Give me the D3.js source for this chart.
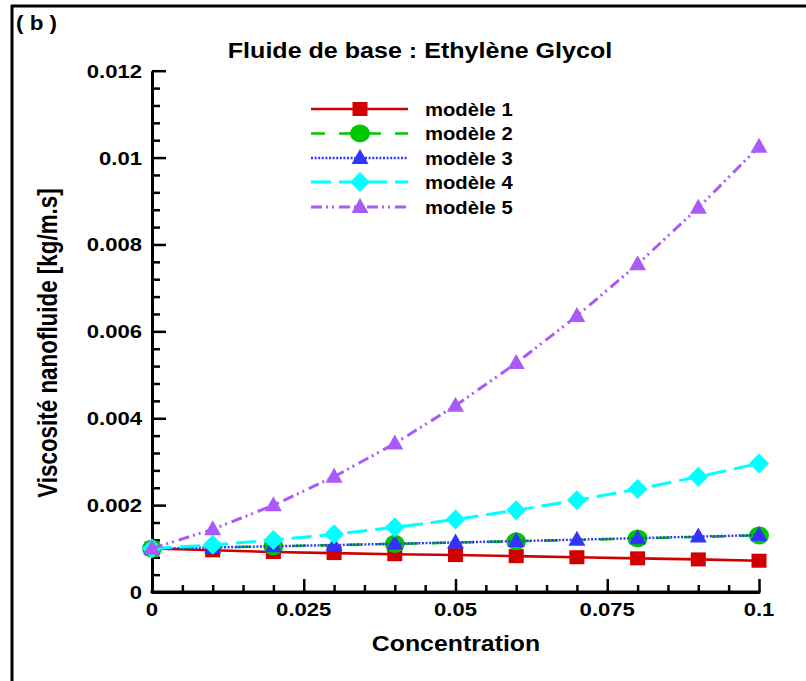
<!DOCTYPE html>
<html><head><meta charset="utf-8">
<script src="https://cdn.jsdelivr.net/npm/d3@7"></script>
<style>html,body{margin:0;padding:0;background:#fff;}svg{display:block;}</style>
</head><body>
<svg id="chart" width="806" height="681"></svg>
<script>
// ---- data ----
const concentration = [0, 0.01, 0.02, 0.03, 0.04, 0.05, 0.06, 0.07, 0.08, 0.09, 0.1];
const modele1 = [0.001, 0.00096, 0.00092, 0.000895, 0.00087, 0.00085, 0.000825, 0.0008, 0.000775, 0.00075, 0.00072];
const modele2 = [0.001, 0.001025, 0.001052, 0.001079, 0.001108, 0.001137, 0.001168, 0.001199, 0.001232, 0.001267, 0.001302];
const modele3 = [0.001, 0.001026, 0.001053, 0.001081, 0.00111, 0.001141, 0.001172, 0.001205, 0.00124, 0.001275, 0.001312];
const modele4 = [0.001, 0.001085, 0.001195, 0.00133, 0.001489, 0.00167, 0.001881, 0.002114, 0.002371, 0.002653, 0.00296];
const modele5 = [0.001, 0.001445, 0.001996, 0.002654, 0.003419, 0.00429, 0.005269, 0.006354, 0.007546, 0.008845, 0.01025];
const seriesNames = ["modèle 1", "modèle 2", "modèle 3", "modèle 4", "modèle 5"];
const xTicks = [0, 0.025, 0.05, 0.075, 0.1];
const xTickLabels = ["0", "0.025", "0.05", "0.075", "0.1"];
const yTicks = [0, 0.002, 0.004, 0.006, 0.008, 0.01, 0.012];
const yTickLabels = ["0", "0.002", "0.004", "0.006", "0.008", "0.01", "0.012"];
const titleText = "Fluide de base : Ethylène Glycol";
const panelLabel = "( b )";
const xLabel = "Concentration";
const yLabel = "Viscosité nanofluide [kg/m.s]";

// ---- styles ----
const FONT = '"Liberation Sans", Arial, Helvetica, sans-serif';
const SX = 1.15;
const styles = [
  {color:"#d00000", dash:null, width:2.6, marker:"square", every:1},
  {color:"#00c800", dash:"14,14", width:2.6, marker:"circle", every:2},
  {color:"#3333ff", dash:"2,1.6", width:2.4, marker:"triangle", every:1},
  {color:"#00ffff", dash:"20,8", width:3, marker:"diamond", every:1},
  {color:"#aa5af8", dash:"11,4,2,4,2,5", width:3, marker:"triangle", every:1}
];
const seriesData = [modele1, modele2, modele3, modele4, modele5];

const svg = d3.select("#chart");
const x = d3.scaleLinear().domain([0, 0.1]).range([152, 759]);
const y = d3.scaleLinear().domain([0, 0.012]).range([592, 70.7]);

function stext(parent, px, py, str, fs, sx, anchor){
  return parent.append("text")
    .attr("transform", `translate(${px},${py}) scale(${sx},1)`)
    .attr("text-anchor", anchor)
    .style("font-family", FONT).style("font-weight", "bold")
    .style("font-size", fs + "px").attr("fill", "#000")
    .text(str);
}

// frame
svg.append("line").attr("x1", 11).attr("x2", 806).attr("y1", 6).attr("y2", 6).attr("stroke", "#000").attr("stroke-width", 3);
svg.append("line").attr("x1", 12).attr("x2", 12).attr("y1", 5).attr("y2", 681).attr("stroke", "#000").attr("stroke-width", 3);

stext(svg, 16, 30, panelLabel, 19.5, SX, "start");
stext(svg, 420, 58, titleText, 21.8, SX, "middle");

// axes
const yMinor = d3.range(0, 0.01201, 0.0004).filter(v => Math.abs(v/0.002 - Math.round(v/0.002)) > 1e-6);
const xMinor = d3.range(0, 0.1001, 0.005).filter(v => Math.abs(v/0.025 - Math.round(v/0.025)) > 1e-6);

const gy = svg.append("g").attr("transform", "translate(152,0)");
gy.call(d3.axisRight(y).tickValues(yTicks).tickSize(14).tickSizeOuter(0).tickFormat(""));
gy.append("g").call(d3.axisRight(y).tickValues(yMinor).tickSize(8).tickSizeOuter(0).tickFormat(""));
const gx = svg.append("g").attr("transform", "translate(0,592)");
gx.call(d3.axisTop(x).tickValues(xTicks).tickSize(13).tickSizeOuter(0).tickFormat(""));
gx.append("g").call(d3.axisTop(x).tickValues(xMinor).tickSize(7).tickSizeOuter(0).tickFormat(""));
svg.selectAll(".domain").attr("stroke", "#000").attr("stroke-width", 3);
gy.selectAll(".tick line").attr("stroke", "#000").attr("stroke-width", 2.5);
gx.selectAll(".tick line").attr("stroke", "#000").attr("stroke-width", 2.5);
gy.select("g").selectAll(".tick line").attr("stroke-width", 1.8);
gx.select("g").selectAll(".tick line").attr("stroke-width", 1.8);
gy.select("g .domain").remove();
gx.select("g .domain").remove();
svg.append("line").attr("x1", 150.5).attr("x2", 760.5).attr("y1", 592).attr("y2", 592).attr("stroke", "#000").attr("stroke-width", 3);

yTicks.forEach((v, i) => stext(svg, 142, y(v) + 7, yTickLabels[i], 19.2, SX, "end"));
xTicks.forEach((v, i) => stext(svg, x(v), 616, xTickLabels[i], 19.2, SX, "middle"));

stext(svg, 456, 651, xLabel, 21.6, SX, "middle");
svg.append("text")
  .attr("transform", "translate(47,343) rotate(-90) scale(1,1.2)")
  .attr("text-anchor", "middle").attr("dy", "0.36em")
  .style("font-family", FONT).style("font-weight", "bold").style("font-size", "22.4px")
  .text(yLabel);

// marker
function marker(g, type, cx, cy, color){
  if (type === "square") {
    g.append("rect").attr("x", cx - 7.5).attr("y", cy - 7).attr("width", 15).attr("height", 14).attr("fill", color);
  } else if (type === "circle") {
    g.append("ellipse").attr("cx", cx).attr("cy", cy).attr("rx", 10).attr("ry", 9).attr("fill", color);
  } else if (type === "triangle") {
    g.append("path").attr("d", `M${cx},${cy-9}L${cx+8.5},${cy+6}L${cx-8.5},${cy+6}Z`).attr("fill", color);
  } else if (type === "diamond") {
    g.append("path").attr("d", `M${cx},${cy-10}L${cx+10},${cy}L${cx},${cy+10}L${cx-10},${cy}Z`).attr("fill", color);
  }
}

const line = d3.line().x(d => x(d[0])).y(d => y(d[1]));
seriesData.forEach((vals, si) => {
  const st = styles[si];
  const pts = concentration.map((c, i) => [c, vals[i]]);
  const g = svg.append("g");
  const p = g.append("path").datum(pts).attr("d", line).attr("fill", "none")
    .attr("stroke", st.color).attr("stroke-width", st.width);
  if (st.dash) p.attr("stroke-dasharray", st.dash);
  pts.forEach((d, i) => { if (i % st.every === 0) marker(g, st.marker, x(d[0]), y(d[1]), st.color); });
});

// legend
const legendRows = [109, 133.5, 158, 182, 207];
seriesNames.forEach((name, si) => {
  const st = styles[si];
  const g = svg.append("g");
  const ly = legendRows[si];
  const l = g.append("line").attr("x1", 311).attr("x2", 408).attr("y1", ly).attr("y2", ly)
    .attr("stroke", st.color).attr("stroke-width", st.width);
  if (st.dash) l.attr("stroke-dasharray", st.dash);
  marker(g, st.marker, 360, ly, st.color);
  stext(g, 425, ly + 6.5, name, 17.6, SX, "start");
});
</script>
</body></html>
